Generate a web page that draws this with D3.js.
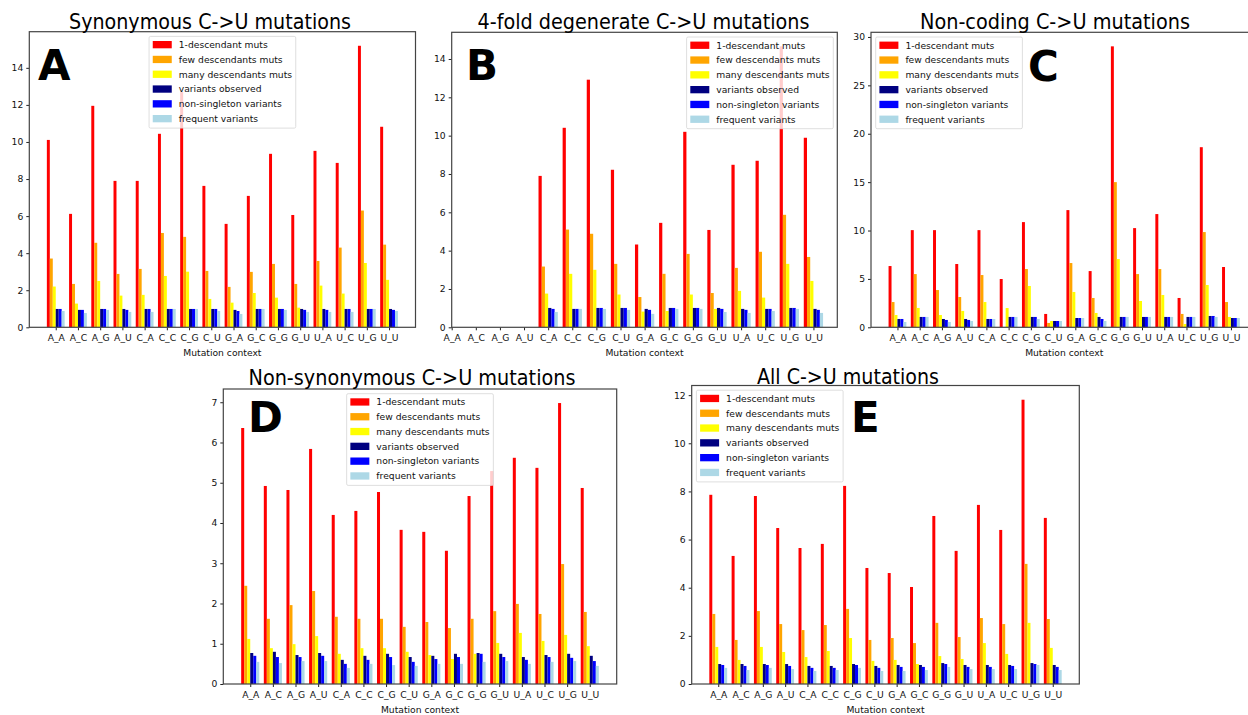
<!DOCTYPE html>
<html>
<head>
<meta charset="utf-8">
<script src="https://cdn.jsdelivr.net/npm/d3@7"></script>
<style>
  body { margin: 0; background: #fff; }
  svg { display: block; }
  text { font-family: "DejaVu Sans", sans-serif; }
</style>
</head>
<body>
<svg id="fig" width="1248" height="715"></svg>
<script>
// categories and series
var contexts = ['A_A','A_C','A_G','A_U','C_A','C_C','C_G','C_U','G_A','G_C','G_G','G_U','U_A','U_C','U_G','U_U'];
var seriesNames = ['1-descendant muts','few descendants muts','many descendants muts',
                   'variants observed','non-singleton variants','frequent variants'];

// one row per series, one column per context
var synonymous = [
  [10.11, 6.12, 11.95, 7.90, 7.90, 10.44, 12.69, 7.63, 5.58, 7.09, 9.36, 6.06, 9.52, 8.87, 15.19, 10.82],
  [3.71, 2.34, 4.56, 2.88, 3.15, 5.09, 4.88, 3.04, 2.18, 2.99, 3.42, 2.34, 3.58, 4.30, 6.30, 4.46],
  [2.20, 1.28, 2.50, 1.71, 1.75, 2.77, 3.00, 1.53, 1.33, 1.85, 1.60, 1.06, 2.25, 1.82, 3.47, 2.56],
  [0.99, 0.94, 0.99, 0.99, 0.99, 0.99, 0.99, 0.99, 0.94, 0.99, 0.99, 0.99, 0.99, 0.99, 0.99, 0.99],
  [0.99, 0.94, 0.99, 0.94, 0.99, 0.99, 0.99, 0.99, 0.88, 0.99, 0.99, 0.94, 0.94, 0.99, 0.99, 0.94],
  [0.88, 0.77, 0.94, 0.83, 0.83, 0.99, 0.99, 0.88, 0.72, 0.99, 0.94, 0.83, 0.83, 0.83, 0.99, 0.88]
];
var fourfold = [
  [null, null, null, null, 7.90, 10.41, 12.92, 8.22, 4.32, 5.45, 10.20, 5.08, 8.48, 8.69, 14.66, 9.89],
  [null, null, null, null, 3.17, 5.10, 4.88, 3.31, 1.58, 2.79, 3.83, 1.79, 3.10, 3.94, 5.87, 3.67],
  [null, null, null, null, 1.76, 2.79, 3.00, 1.71, 0.82, 0.85, 1.71, 0.96, 1.90, 1.55, 3.31, 2.42],
  [null, null, null, null, 1.01, 0.96, 1.01, 1.01, 0.96, 1.01, 1.01, 1.01, 0.96, 0.96, 1.01, 0.96],
  [null, null, null, null, 0.96, 0.96, 1.01, 1.01, 0.91, 1.01, 1.01, 0.96, 0.91, 0.96, 1.01, 0.91],
  [null, null, null, null, 0.80, 0.96, 0.96, 0.91, 0.70, 0.96, 0.96, 0.80, 0.75, 0.85, 0.96, 0.75]
];
var noncoding = [
  [6.33, 10.04, 10.04, 6.54, 10.04, 4.99, 10.87, 1.38, 12.11, 5.81, 29.03, 10.25, 11.70, 3.03, 18.61, 6.23],
  [2.61, 5.50, 3.85, 3.13, 5.40, 0.00, 6.02, 0.45, 6.64, 3.03, 15.00, 5.50, 6.02, 1.38, 9.84, 2.61],
  [1.27, 2.00, 1.27, 1.69, 2.61, 1.99, 4.27, 0.65, 3.65, 1.48, 7.05, 2.72, 3.34, 0.34, 4.37, 1.07],
  [0.86, 1.07, 0.86, 0.86, 0.86, 1.07, 1.07, 0.65, 0.96, 1.07, 1.07, 1.07, 1.07, 1.07, 1.17, 0.96],
  [0.86, 1.07, 0.76, 0.76, 0.86, 1.07, 1.07, 0.65, 0.96, 0.86, 1.07, 1.07, 1.07, 1.07, 1.17, 0.96],
  [0.55, 1.07, 0.55, 0.65, 0.86, 1.07, 0.86, 0.65, 0.96, 0.65, 1.07, 1.07, 1.07, 1.07, 1.07, 0.96]
];
var nonsynonymous = [
  [6.36, 4.92, 4.82, 5.84, 4.20, 4.30, 4.77, 3.83, 3.78, 3.31, 4.67, 5.29, 5.62, 5.37, 6.98, 4.87],
  [2.44, 1.62, 1.96, 2.31, 1.67, 1.62, 1.62, 1.42, 1.54, 1.39, 1.62, 1.81, 1.99, 1.74, 2.98, 1.79],
  [1.12, 0.89, 0.99, 1.19, 0.75, 0.89, 0.89, 0.80, 0.72, 0.62, 0.75, 1.02, 1.27, 1.07, 1.22, 0.94],
  [0.77, 0.80, 0.72, 0.77, 0.60, 0.70, 0.75, 0.67, 0.70, 0.75, 0.77, 0.75, 0.67, 0.72, 0.75, 0.70],
  [0.70, 0.67, 0.67, 0.70, 0.50, 0.60, 0.67, 0.55, 0.62, 0.67, 0.75, 0.67, 0.60, 0.67, 0.65, 0.57],
  [0.55, 0.52, 0.57, 0.57, 0.40, 0.50, 0.47, 0.45, 0.50, 0.50, 0.55, 0.57, 0.50, 0.55, 0.57, 0.45]
];
var allMuts = [
  [7.86, 5.32, 7.81, 6.48, 5.65, 5.82, 8.23, 4.82, 4.61, 4.03, 6.98, 5.53, 7.44, 6.40, 11.81, 6.90],
  [2.91, 1.83, 3.03, 2.49, 2.24, 2.45, 3.12, 1.83, 1.91, 1.70, 2.54, 1.95, 2.74, 2.49, 4.99, 2.70],
  [1.54, 1.00, 1.54, 1.33, 1.12, 1.37, 1.91, 0.96, 1.00, 0.83, 1.16, 1.04, 1.70, 1.25, 2.54, 1.50],
  [0.83, 0.83, 0.83, 0.83, 0.75, 0.75, 0.83, 0.75, 0.79, 0.79, 0.87, 0.79, 0.79, 0.79, 0.87, 0.79],
  [0.79, 0.75, 0.79, 0.75, 0.67, 0.67, 0.79, 0.67, 0.71, 0.71, 0.83, 0.71, 0.71, 0.75, 0.83, 0.71],
  [0.67, 0.58, 0.67, 0.62, 0.54, 0.58, 0.67, 0.54, 0.54, 0.58, 0.71, 0.62, 0.62, 0.62, 0.79, 0.58]
];

var colors = ['#ff0000', '#ffa500', '#ffff00', '#000080', '#0000ff', '#add8e6'];

// frame = [left, top, right, bottom] of each axes box in the figure
var panels = [
  {title: 'Synonymous C->U mutations', letter: 'A', data: synonymous, frame: [29.3, 31.7, 415.5, 327.3],
   legend: 'center', ticks: 8, tx: 210, ty: 29, tw: 282, lx: 38, ly: 80},
  {title: '4-fold degenerate C->U mutations', letter: 'B', data: fourfold, frame: [451.7, 32.3, 837.3, 327.3],
   legend: 'right', ticks: 8, tx: 643.5, ty: 29, tw: 332, lx: 466, ly: 80},
  {title: 'Non-coding C->U mutations', letter: 'C', data: noncoding, frame: [871, 32.3, 1257.4, 327.3],
   legend: 'left', ticks: 7, tx: 1055, ty: 29, tw: 270, lx: 1028, ly: 81},
  {title: 'Non-synonymous C->U mutations', letter: 'D', data: nonsynonymous, frame: [223.3, 389, 616.7, 684],
   legend: 'center', ticks: 8, tx: 412, ty: 385, tw: 327, lx: 248, ly: 432},
  {title: 'All C->U mutations', letter: 'E', data: allMuts, frame: [691.7, 385.5, 1079.3, 684],
   legend: 'left', ticks: 7, tx: 848, ty: 384, tw: 182, lx: 851, ly: 432}
];

var svg = d3.select('#fig'),
    fontSize = 9.2,
    barW = 0.8 / seriesNames.length;

function drawPanel(p, k){
  var f = p.frame,
      g = svg.append('g').attr('class', 'panel');

  // matplotlib style autoscale: 5% margin on bar extent, then include all ticks
  var lo = Infinity, hi = -Infinity, top = 0;
  p.data.forEach(function(row, s){
    row.forEach(function(v, i){
      if (v == null) return;
      var x0 = i - 0.4 + s * barW;
      lo = Math.min(lo, x0);
      hi = Math.max(hi, x0 + barW);
      top = Math.max(top, v);
    });
  });
  var m = (hi - lo) * 0.05;
  lo = Math.min(lo - m, 0);
  hi = Math.max(hi + m, contexts.length - 1);

  var x = d3.scaleLinear().domain([lo, hi]).range([f[0], f[2]]);
  var y = d3.scaleLinear().domain([0, top * 1.05]).range([f[3], f[1]]);

  g.append('clipPath').attr('id', 'clip' + k)
    .append('rect')
    .attr('x', f[0]).attr('y', f[1])
    .attr('width', f[2] - f[0]).attr('height', f[3] - f[1]);

  var bars = g.append('g').attr('clip-path', 'url(#clip' + k + ')');
  p.data.forEach(function(row, s){
    bars.selectAll('rect.s' + s)
      .data(row.map(function(v, i){ return {v: v, i: i}; }).filter(function(d){ return d.v != null; }))
      .enter().append('rect')
      .attr('class', 's' + s)
      .attr('x', function(d){ return x(d.i - 0.4 + s * barW); })
      .attr('width', function(d){ return x(d.i - 0.4 + (s + 1) * barW) - x(d.i - 0.4 + s * barW); })
      .attr('y', function(d){ return y(d.v); })
      .attr('height', function(d){ return y(0) - y(d.v); })
      .attr('fill', colors[s]);
  });

  // axes
  var yAxis = g.append('g')
    .attr('transform', 'translate(' + f[0] + ',0)')
    .call(d3.axisLeft(y).ticks(p.ticks).tickFormat(d3.format('d')).tickSize(3).tickPadding(3));
  var xAxis = g.append('g')
    .attr('transform', 'translate(0,' + f[3] + ')')
    .call(d3.axisBottom(x).tickValues(d3.range(contexts.length))
      .tickFormat(function(i){ return contexts[i]; }).tickSize(3).tickPadding(4));
  [yAxis, xAxis].forEach(function(a){
    a.select('.domain').remove();
    a.selectAll('text').attr('font-size', fontSize).attr('font-family', '"DejaVu Sans", sans-serif').attr('fill', '#111');
    a.selectAll('line').attr('stroke', '#222');
  });

  g.append('rect')
    .attr('x', f[0]).attr('y', f[1])
    .attr('width', f[2] - f[0]).attr('height', f[3] - f[1])
    .attr('fill', 'none').attr('stroke', '#444').attr('stroke-width', 1.2);

  g.append('text')
    .attr('x', (f[0] + f[2]) / 2).attr('y', f[3] + 28.5)
    .attr('text-anchor', 'middle').attr('font-size', fontSize).attr('fill', '#111')
    .text('Mutation context');

  // legend
  var lw = 146.7, lh = 91.7, rowH = 14.8,
      lx = p.legend === 'center' ? (f[0] + f[2]) / 2 - lw / 2
         : p.legend === 'right' ? f[2] - 4 - lw : f[0] + 4.7,
      ly = f[1] + 4.7;
  var leg = g.append('g').attr('transform', 'translate(' + lx + ',' + ly + ')');
  leg.append('rect')
    .attr('width', lw).attr('height', lh).attr('rx', 1.5)
    .attr('fill', '#fff').attr('fill-opacity', 0.8)
    .attr('stroke', '#d6d6d6').attr('stroke-width', 0.8);
  var item = leg.selectAll('g.item').data(seriesNames).enter().append('g')
    .attr('class', 'item')
    .attr('transform', function(d, i){ return 'translate(0,' + (8.3 + i * rowH) + ')'; });
  item.append('rect')
    .attr('x', 3.7).attr('y', -3.7).attr('width', 19).attr('height', 7.3)
    .attr('fill', function(d, i){ return colors[i]; });
  item.append('text')
    .attr('x', 29.7).attr('dy', '0.35em')
    .attr('font-size', fontSize).attr('fill', '#111')
    .text(function(d){ return d; });

  // title and panel letter
  g.append('text')
    .attr('x', p.tx).attr('y', p.ty)
    .attr('text-anchor', 'middle')
    .attr('font-family', 'Lato, "Open Sans", sans-serif').attr('font-size', 21.5)
    .attr('textLength', p.tw).attr('lengthAdjust', 'spacingAndGlyphs')
    .attr('fill', '#000')
    .text(p.title);
  g.append('text')
    .attr('x', p.lx).attr('y', p.ly)
    .attr('font-family', '"Liberation Sans", Arial, sans-serif').attr('font-weight', 'bold')
    .attr('font-size', 42).attr('fill', '#000')
    .text(p.letter);
}

panels.forEach(drawPanel);
</script>
</body>
</html>
